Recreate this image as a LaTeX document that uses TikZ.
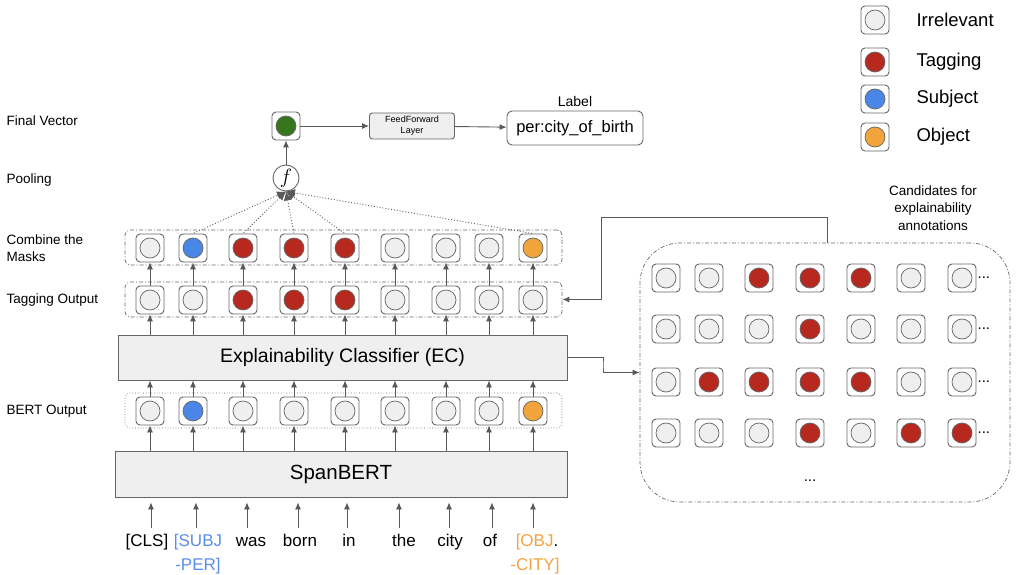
\documentclass[tikz,border=0pt]{standalone}
\usepackage{fontspec}
\setmainfont{Liberation Sans}
\usetikzlibrary{arrows.meta,positioning}

\definecolor{linegray}{HTML}{666666}
\definecolor{arrowgray}{HTML}{595959}
\definecolor{irr}{HTML}{EFEFEF}
\definecolor{tag}{HTML}{B7281E}
\definecolor{subj}{HTML}{4A86E8}
\definecolor{obj}{HTML}{F1A33C}
\definecolor{vecgreen}{HTML}{38761D}
\definecolor{subjtext}{HTML}{5B8DEE}
\definecolor{objtext}{HTML}{F4A340}
\definecolor{boxfill}{HTML}{EFEFEF}

\tikzset{
  cell/.style={rectangle, rounded corners=4pt, draw=linegray, line width=0.9pt, fill=white,
    minimum size=28pt, inner sep=0pt,
    path picture={\draw[linegray, line width=0.7pt, fill=#1] (path picture bounding box.center) circle (10pt);}},
  cell/.default=irr,
  arr/.style={arrowgray, line width=0.9pt, -{Latex[length=7pt,width=6pt]}},
  poolarr/.style={arrowgray, line width=0.9pt, dotted, -{Latex[length=9pt,width=8pt]}},
  dasheddot/.style={draw=linegray, line width=0.7pt, rounded corners=5pt,
    dash pattern=on 4pt off 2pt on 1pt off 2pt},
  sidelabel/.style={anchor=west, align=left, font=\fontsize{13.5}{17}\selectfont},
  word/.style={anchor=base, inner sep=1pt, font=\fontsize{17}{24}\selectfont},
  layerbox/.style={rectangle, draw=linegray, fill=boxfill, line width=0.9pt},
  legendtext/.style={anchor=west, font=\fontsize{18.5}{20}\selectfont}
}

\begin{document}
\begin{tikzpicture}[x=1pt,y=-1pt]
    \useasboundingbox (0,0) rectangle (1018,575);

    \node[sidelabel] (lfv) at (3,121) {Final Vector};
    \node[sidelabel] (lpool) at (3,180) {Pooling};
    \node[sidelabel] (lcomb) at (3,248) {Combine the\\Masks};
    \node[sidelabel] (ltag) at (3,300) {Tagging Output};
    \node[sidelabel] (lbert) at (3,411) {BERT Output};

    \node[rectangle, dasheddot, minimum width=437pt, minimum height=35pt] (cmbox) at (343.5,247.5) {};
    \node[rectangle, dasheddot, minimum width=437pt, minimum height=35pt] (tagbox) at (343.5,299.5) {};
    \node[rectangle, draw=linegray, line width=0.7pt, rounded corners=5pt, dotted,
      minimum width=437pt, minimum height=35pt] (bobox) at (343.5,410.5) {};

    \node[layerbox, minimum width=449pt, minimum height=45pt,
      font=\fontsize{19.5}{22}\selectfont] (ec) at (342.5,357.5) {Explainability Classifier (EC)};
    \node[layerbox, minimum width=452pt, minimum height=46pt,
      font=\fontsize{20.5}{22}\selectfont] (bert) at (341,474) {SpanBERT};

    \foreach \x/\col [count=\i] in {150/irr,193/subj,243/tag,294/tag,345/tag,395/irr,446/irr,489/irr,533/obj}
      \node[cell=\col] (cm\i) at (\x,248) {};
    \foreach \x/\col [count=\i] in {150/irr,193/irr,243/tag,294/tag,345/tag,395/irr,446/irr,489/irr,533/irr}
      \node[cell=\col] (tg\i) at (\x,300) {};
    \foreach \x/\col [count=\i] in {150/irr,193/subj,243/irr,294/irr,345/irr,395/irr,446/irr,489/irr,533/obj}
      \node[cell=\col] (bo\i) at (\x,411) {};

    \foreach \i in {1,...,9} {
      \draw[arr] (tg\i) -- (cm\i);
      \draw[arr] (ec.north -| tg\i) -- (tg\i);
      \draw[arr] (bo\i) -- (ec.south -| bo\i);
      \draw[arr] (bert.north -| bo\i) -- (bo\i);
    }

    \foreach \ax/\x/\w [count=\i] in {151/147/{[CLS]},196/198/{\color{subjtext}[SUBJ},
        247/251/was,298/300/born,347/349/in,399/404/the,449/450/city,492/490/of,
        533/537/{{\color{objtext}[OBJ}.}} {
      \node[word] (w\i) at (\x,546) {\w};
      \coordinate (a\i) at (\ax,528);
      \draw[arr, shorten >=5pt] (a\i) -- (bert.south -| a\i);
    }
    \node[word, text=subjtext] (w2b) at (198,570) {-PER]};
    \node[word, text=objtext] (w9b) at (535,570) {-CITY]};

    \node[cell=vecgreen] (fv) at (286,126) {};
    \node[circle, draw=linegray, line width=0.9pt, fill=white, minimum size=26pt, inner sep=0pt,
      font=\fontsize{20}{20}\selectfont] (pool) at (286,178) {$f$};
    \draw[arr] (pool) -- (fv);
    \foreach \i in {2,3,4,5,9}
      \draw[poolarr, shorten <=1pt] (cm\i.north) -- (pool.south);

    \node[rectangle, rounded corners=3pt, draw=linegray, fill=boxfill, line width=0.9pt,
      minimum width=85pt, minimum height=26pt, align=center, inner sep=1pt,
      font=\fontsize{9}{11}\selectfont] (ff) at (412,126) {FeedForward\\Layer};
    \node[rectangle, rounded corners=5pt, draw=linegray, line width=0.9pt,
      minimum width=136pt, minimum height=34pt,
      font=\fontsize{16.5}{18}\selectfont] (lab) at (575,128) {per:city\_of\_birth};
    \node[above=0pt of lab, font=\fontsize{14}{16}\selectfont] (labtitle) {Label};
    \draw[arr] (fv) -- (ff);
    \draw[arr] (ff) -- (lab);

    \node[rectangle, draw=linegray, line width=0.7pt, rounded corners=40pt,
      dash pattern=on 4pt off 2pt on 1pt off 2pt,
      minimum width=370pt, minimum height=259pt] (cand) at (825,372.5) {};
    \node[align=center, font=\fontsize{13.5}{17.5}\selectfont] (candtitle) at (933,208)
      {Candidates for\\explainability\\annotations};

    \foreach \y/\pat [count=\r] in {278/{irr,irr,tag,tag,tag,irr,irr},329/{irr,irr,irr,tag,irr,irr,irr},
        382/{irr,tag,tag,tag,tag,irr,irr},433/{irr,irr,irr,tag,irr,tag,tag}} {
      \foreach \col [count=\k] in \pat {
        \pgfmathsetmacro{\gx}{{666,709,759,810,861,911,962}[\k-1]}
        \node[cell=\col] (g\r\k) at (\gx,\y) {};
      }
      \node[anchor=west, inner sep=1pt, font=\fontsize{15}{15}\selectfont] (gdots\r) at (g\r7.east) {...};
    }
    \node[font=\fontsize{15}{15}\selectfont] (gdots) at (810,481) {...};

    \coordinate (bend1) at (601,217);
    \coordinate (bend2) at (603,365);
    \draw[arr] (cand.north -| 827,0) |- (bend1) |- (tagbox.east);
    \draw[arr] (ec.east) -| (bend2) |- (cand.west);

    \node[cell=irr] (k1) at (875,20) {};
    \node[cell=tag] (k2) at (875,62) {};
    \node[cell=subj] (k3) at (875,99) {};
    \node[cell=obj] (k4) at (875,137) {};
    \node[legendtext] (t1) at (913,20) {Irrelevant};
    \node[legendtext] (t2) at (913,62) {Tagging};
    \node[legendtext] (t3) at (913,99) {Subject};
    \node[legendtext] (t4) at (913,137) {Object};
\end{tikzpicture}
\end{document}
